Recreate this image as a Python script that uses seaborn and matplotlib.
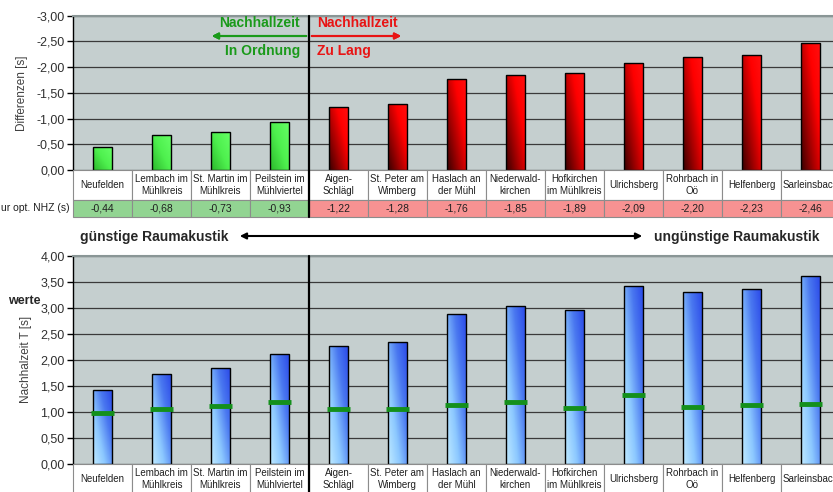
import numpy as np
import seaborn as sns
import matplotlib.pyplot as plt
from matplotlib.colors import LinearSegmentedColormap
from matplotlib.patches import Rectangle
from matplotlib.ticker import FuncFormatter, MultipleLocator
from matplotlib.transforms import blended_transform_factory

orte = ["Neufelden", "Lembach im\nMühlkreis", "St. Martin im\nMühlkreis", "Peilstein im\nMühlviertel",
        "Aigen-\nSchlägl", "St. Peter am\nWimberg", "Haslach an\nder Mühl", "Niederwald-\nkirchen",
        "Hofkirchen\nim Mühlkreis", "Ulrichsberg", "Rohrbach in\nOö", "Helfenberg", "Sarleinsbach"]
differenz = [-0.44, -0.68, -0.73, -0.93, -1.22, -1.28, -1.76, -1.85, -1.89, -2.09, -2.20, -2.23, -2.46]
nachhallzeit = [1.42, 1.72, 1.84, 2.12, 2.26, 2.34, 2.89, 3.04, 2.96, 3.42, 3.30, 3.36, 3.61]
optimal = [0.98, 1.05, 1.11, 1.19, 1.05, 1.06, 1.13, 1.19, 1.07, 1.33, 1.10, 1.13, 1.15]
n_ok = 4  # erste vier Orte: Nachhallzeit in Ordnung

W, H = 833, 492

sns.set_theme(style="white")
plt.rcParams["font.family"] = ["Liberation Sans", "DejaVu Sans"]

fig = plt.figure(figsize=(W / 100, H / 100), dpi=100)


def px(x, y):
    return x / W, 1 - y / H


def fmt(v, pos):
    s = f"{v:.2f}".replace(".", ",")
    return "0,00" if s in ("-0,00", "0,00") else s


def fill_gradient(ax, patches, colors):
    cmap = LinearSegmentedColormap.from_list("", colors)
    gx, gy = np.meshgrid(np.linspace(0, 1, 32), np.linspace(0, 1, 64))
    grad = 0.55 * gx + 0.45 * gy
    for p in patches:
        x0, w, y0, h = p.get_x(), p.get_width(), p.get_y(), p.get_height()
        im = ax.imshow(grad, cmap=cmap, extent=(x0, x0 + w, y0, y0 + h), origin="lower",
                       aspect="auto", zorder=p.get_zorder() - 0.01, interpolation="bilinear")
        im.set_clip_path(p)
        p.set_facecolor("none")


def style_axes(ax, ylim, label):
    ax.set_facecolor("#c5cfcf")
    ax.set_xlim(-0.5, len(orte) - 0.5)
    ax.set_ylim(*ylim)
    ax.yaxis.set_major_locator(MultipleLocator(0.5))
    ax.yaxis.set_major_formatter(FuncFormatter(fmt))
    ax.grid(axis="y", color="#3a3a3a", lw=0.9)
    ax.set_axisbelow(True)
    ax.set_xticks([])
    ax.set_xlabel("")
    ax.set_ylabel(label, fontsize=8.5, color="#404040", labelpad=6)
    ax.tick_params(axis="y", left=True, length=4, width=1, color="black",
                   labelsize=9, labelcolor="#303030", pad=2)
    ax.spines["left"].set_color("black")
    ax.spines["left"].set_linewidth(1)
    ax.spines["top"].set_color("#8a9696")
    ax.spines["top"].set_linewidth(1.5)
    ax.spines["right"].set_visible(False)
    ax.spines["bottom"].set_visible(False)


def table_row(ax, labels, y_top, y_bot, faces, size):
    trans = blended_transform_factory(ax.transData, ax.transAxes)
    for i, (lab, fc) in enumerate(zip(labels, faces)):
        ax.add_patch(Rectangle((i - 0.5, y_bot), 1, y_top - y_bot, transform=trans, facecolor=fc,
                               edgecolor="#8c8c8c", lw=0.8, clip_on=False, zorder=3))
        ax.text(i, (y_top + y_bot) / 2, lab, transform=trans, ha="center", va="center",
                fontsize=size, color="#202020", linespacing=1.35, clip_on=False, zorder=4)


left = 73 / W
width = 59 * len(orte) / W
pos = np.arange(len(orte))

# oberes Diagramm: Differenzen
ax1 = fig.add_axes([left, 1 - 170 / H, width, 154.3 / H])
sns.barplot(x=pos, y=differenz, ax=ax1, width=0.33, color="red",
            edgecolor="black", linewidth=1, native_scale=True)
fill_gradient(ax1, ax1.patches[:n_ok], ["#2cb82c", "#4ef04e", "#66ff66"])
fill_gradient(ax1, ax1.patches[n_ok:], ["#3a0000", "#a00000", "#ff0000", "#ff1010"])
style_axes(ax1, (0, -3), "Differenzen [s]")
r1, r2 = -30 / 154.3, -47 / 154.3
table_row(ax1, orte, 0, r1, ["white"] * len(orte), 7)
table_row(ax1, [fmt(v, None) for v in differenz], r1, r2,
          ["#92d492"] * n_ok + ["#f79292"] * (len(orte) - n_ok), 7.5)
ax1.text(-0.55, (r1 + r2) / 2, "ur opt. NHZ (s)", transform=blended_transform_factory(ax1.transData, ax1.transAxes),
         ha="right", va="center", fontsize=7.5, color="#202020", clip_on=False)
ax1.plot([n_ok - 0.5] * 2, [1, r2], transform=blended_transform_factory(ax1.transData, ax1.transAxes),
         color="black", lw=1.6, clip_on=False, zorder=5)

# unteres Diagramm: Nachhallzeiten
ax2 = fig.add_axes([left, 1 - 464 / H, width, 208.3 / H])
sns.barplot(x=pos, y=nachhallzeit, ax=ax2, width=0.33, color="blue",
            edgecolor="black", linewidth=1, native_scale=True)
fill_gradient(ax2, ax2.patches, ["#bfeaff", "#8cc8ff", "#4a78f0", "#2a48e8"])
ax2.hlines(optimal, pos - 0.2, pos + 0.2, color="#14901c", lw=3.5, zorder=3)
style_axes(ax2, (0, 4), "Nachhalzeit T [s]")
table_row(ax2, orte, 0, -30 / 208.3, ["white"] * len(orte), 7)
ax2.plot([n_ok - 0.5] * 2, [1, -30 / 208.3], transform=blended_transform_factory(ax2.transData, ax2.transAxes),
         color="black", lw=1.6, clip_on=False, zorder=5)
fig.text(*px(8, 301), "werte", fontsize=9, fontweight="bold", va="center", ha="left")

# Pfeile und Beschriftungen oben
green, red = "#1a9a1a", "#e81414"
fig.text(*px(300, 23), "Nachhallzeit", color=green, fontsize=10, fontweight="bold", ha="right", va="center")
fig.text(*px(300, 51), "In Ordnung", color=green, fontsize=10, fontweight="bold", ha="right", va="center")
fig.text(*px(317, 23), "Nachhallzeit", color=red, fontsize=10, fontweight="bold", ha="left", va="center")
fig.text(*px(317, 51), "Zu Lang", color=red, fontsize=10, fontweight="bold", ha="left", va="center")
fig.add_artist(plt.annotate("", xy=px(209, 36), xytext=px(309, 36), xycoords="figure fraction",
                            arrowprops=dict(arrowstyle="-|>", color=green, lw=1.5, mutation_scale=9)))
fig.add_artist(plt.annotate("", xy=px(404, 36), xytext=px(309, 36), xycoords="figure fraction",
                            arrowprops=dict(arrowstyle="-|>", color=red, lw=1.5, mutation_scale=9)))

# Raumakustik-Pfeil
fig.text(*px(80, 237), "günstige Raumakustik", fontsize=10, fontweight="bold", ha="left", va="center")
fig.text(*px(819, 237), "ungünstige Raumakustik", fontsize=10, fontweight="bold", ha="right", va="center")
plt.annotate("", xy=px(645, 236), xytext=px(237, 236), xycoords="figure fraction",
             arrowprops=dict(arrowstyle="<|-|>", color="black", lw=1.5, mutation_scale=9))

fig.savefig("out.png", dpi=100)
